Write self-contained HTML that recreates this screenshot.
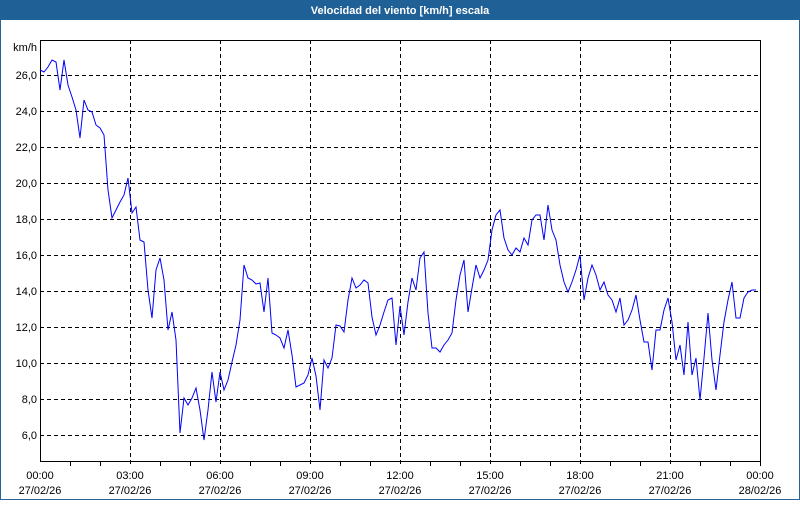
<!DOCTYPE html>
<html><head><meta charset="utf-8"><style>
html,body{margin:0;padding:0;background:#fff;}
body{width:800px;height:500px;overflow:hidden;font-family:"Liberation Sans",sans-serif;}
</style></head><body>
<svg width="800" height="500" xmlns="http://www.w3.org/2000/svg" font-family="Liberation Sans, sans-serif" font-size="11">
<rect x="0" y="0" width="800" height="500" fill="#fff"/>
<rect x="0.5" y="0.5" width="799" height="499" fill="none" stroke="#2a6496"/>
<rect x="0" y="0" width="800" height="20" fill="#1f6096"/>
<text x="400" y="14" fill="#fff" font-weight="bold" text-anchor="middle">Velocidad del viento [km/h] escala</text>
<g stroke="#000" stroke-dasharray="4,3" stroke-width="1">
<line x1="40" x2="760" y1="75.5" y2="75.5"/><line x1="40" x2="760" y1="111.5" y2="111.5"/>
<line x1="40" x2="760" y1="147.5" y2="147.5"/><line x1="40" x2="760" y1="183.5" y2="183.5"/>
<line x1="40" x2="760" y1="219.5" y2="219.5"/><line x1="40" x2="760" y1="255.5" y2="255.5"/>
<line x1="40" x2="760" y1="291.5" y2="291.5"/><line x1="40" x2="760" y1="327.5" y2="327.5"/>
<line x1="40" x2="760" y1="363.5" y2="363.5"/><line x1="40" x2="760" y1="399.5" y2="399.5"/>
<line x1="40" x2="760" y1="435.5" y2="435.5"/>
<line y1="40" y2="466" x1="130.5" x2="130.5"/><line y1="40" y2="466" x1="220.5" x2="220.5"/>
<line y1="40" y2="466" x1="310.5" x2="310.5"/><line y1="40" y2="466" x1="400.5" x2="400.5"/>
<line y1="40" y2="466" x1="490.5" x2="490.5"/><line y1="40" y2="466" x1="580.5" x2="580.5"/>
<line y1="40" y2="466" x1="670.5" x2="670.5"/>
</g>
<rect x="40.5" y="40.5" width="720" height="421" fill="none" stroke="#000"/>
<g stroke="#000">
<line x1="70.5" x2="70.5" y1="461" y2="466"/><line x1="100.5" x2="100.5" y1="461" y2="466"/>
<line x1="160.5" x2="160.5" y1="461" y2="466"/><line x1="190.5" x2="190.5" y1="461" y2="466"/>
<line x1="250.5" x2="250.5" y1="461" y2="466"/><line x1="280.5" x2="280.5" y1="461" y2="466"/>
<line x1="340.5" x2="340.5" y1="461" y2="466"/><line x1="370.5" x2="370.5" y1="461" y2="466"/>
<line x1="430.5" x2="430.5" y1="461" y2="466"/><line x1="460.5" x2="460.5" y1="461" y2="466"/>
<line x1="520.5" x2="520.5" y1="461" y2="466"/><line x1="550.5" x2="550.5" y1="461" y2="466"/>
<line x1="610.5" x2="610.5" y1="461" y2="466"/><line x1="640.5" x2="640.5" y1="461" y2="466"/>
<line x1="700.5" x2="700.5" y1="461" y2="466"/><line x1="730.5" x2="730.5" y1="461" y2="466"/>
<line x1="760.5" x2="760.5" y1="461" y2="466"/>
</g>
<g fill="#000" text-anchor="end">
<text x="37" y="51">km/h</text>
<text x="37" y="79">26,0</text><text x="37" y="115">24,0</text><text x="37" y="151">22,0</text>
<text x="37" y="187">20,0</text><text x="37" y="223">18,0</text><text x="37" y="259">16,0</text>
<text x="37" y="295">14,0</text><text x="37" y="331">12,0</text><text x="37" y="367">10,0</text>
<text x="37" y="403">8,0</text><text x="37" y="439">6,0</text>
</g>
<g fill="#000" text-anchor="middle">
<text x="40" y="479">00:00</text><text x="40" y="494">27/02/26</text>
<text x="130" y="479">03:00</text><text x="130" y="494">27/02/26</text>
<text x="220" y="479">06:00</text><text x="220" y="494">27/02/26</text>
<text x="310" y="479">09:00</text><text x="310" y="494">27/02/26</text>
<text x="400" y="479">12:00</text><text x="400" y="494">27/02/26</text>
<text x="490" y="479">15:00</text><text x="490" y="494">27/02/26</text>
<text x="580" y="479">18:00</text><text x="580" y="494">27/02/26</text>
<text x="670" y="479">21:00</text><text x="670" y="494">27/02/26</text>
<text x="760" y="479">00:00</text><text x="760" y="494">28/02/26</text>
</g>
<polyline fill="none" stroke="#0000ff" stroke-width="1" points="40,70 44,72 48,67 52,60 56,62 60,90 64,60 68,85 72,97 76,110 80,138 84,100 88,110 92,112 96,125 100,128 104,135 108,190 112,218 116,210 120,202 124,195 128,178 132,213 136,207 140,240 144,242 148,290 152,318 156,270 160,258 164,280 168,330 172,312 176,340 180,433 184,398 188,405 192,398 196,388 200,410 204,440 208,410 212,372 216,402 220,372 224,390 228,380 232,362 236,345 240,320 244,265 248,278 252,280 256,284 260,283 264,312 268,278 272,333 276,335 280,338 284,348 288,330 292,355 296,387 300,385 304,383 308,375 312,358 316,376 320,410 324,360 328,368 332,358 336,325 340,326 344,332 348,300 352,278 356,288 360,285 364,280 368,283 372,317 376,335 380,325 384,312 388,300 392,298 396,345 400,306 404,335 408,302 412,278 416,290 420,258 424,252 428,313 432,348 436,348 440,352 444,345 448,340 452,333 456,300 460,275 464,260 468,312 472,288 476,265 480,278 484,270 488,260 492,230 496,215 500,210 504,238 508,250 512,255 516,248 520,252 524,238 528,245 532,220 536,215 540,215 544,240 548,205 552,230 556,240 560,265 564,282 568,292 572,282 576,270 580,255 584,300 588,278 592,265 596,275 600,290 604,282 608,295 612,300 616,312 620,298 624,325 628,320 632,310 636,295 640,320 644,342 648,342 652,370 656,330 660,330 664,310 668,298 672,322 676,360 680,345 684,375 688,322 692,375 696,358 700,400 704,358 708,313 712,360 716,390 720,355 724,322 728,300 732,282 736,318 740,318 744,298 748,292 752,290 756,290"/>
</svg>
</body></html>
